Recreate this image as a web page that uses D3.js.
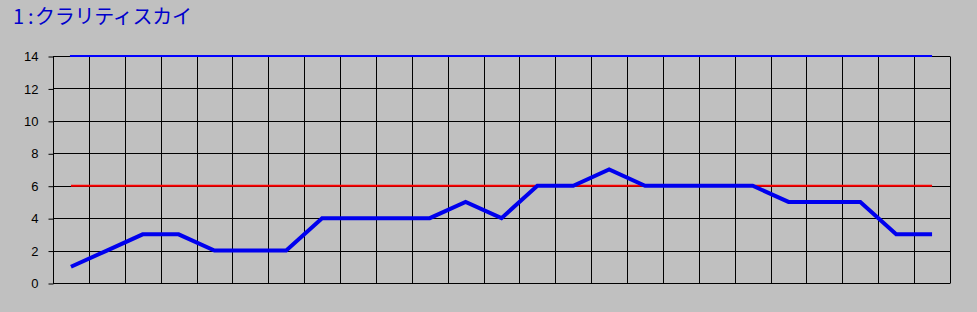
<!DOCTYPE html>
<html>
<head>
<meta charset="utf-8">
<script src="https://cdn.jsdelivr.net/npm/d3@7"></script>
<style>
  html, body { margin: 0; padding: 0; background: #c0c0c0; }
  svg { display: block; }
</style>
</head>
<body>
<div id="chart-area"></div>
<script>

// SVG Size
var width = 977,
		height = 312;

// Chart data
var titleNo = "1";
var titleSep = ":";
var titleName = "クラリティスカイ";
var categories = d3.range(1, 26);
var values = [1, 2, 3, 3, 2, 2, 2, 4, 4, 4, 4, 5, 4, 6, 6, 7, 6, 6, 6, 6, 5, 5, 5, 3, 3];
var upperLine = 14;
var centerLine = 6;
var yTicks = [0, 2, 4, 6, 8, 10, 12, 14];

var plot = { left: 53, right: 950, top: 56, bottom: 283 };

var svg = d3.select("#chart-area").append("svg")
	.attr("width", width)
	.attr("height", height);

svg.append("rect")
	.attr("width", width)
	.attr("height", height)
	.attr("fill", "#c0c0c0");

// Title (number, separator and name placed like the original)
var title = svg.append("text")
	.attr("y", 24)
	.attr("fill", "#0000cc")
	.style("font-family", "'Noto Sans CJK JP', sans-serif")
	.style("font-size", "20px");

title.append("tspan").attr("x", 13).text(titleNo);
title.append("tspan").attr("x", 28).text(titleSep);
title.append("tspan")
	.attr("x", 35)
	.attr("textLength", 157)
	.attr("lengthAdjust", "spacing")
	.text(titleName);

var x = d3.scaleBand()
	.domain(categories)
	.range([plot.left, plot.right])
	.padding(0);

var y = d3.scaleLinear()
	.domain([0, 14])
	.range([plot.bottom, plot.top]);

function crisp(v) { return Math.round(v) + 0.5; }

// Horizontal grid lines
svg.append("g").selectAll("line")
	.data(yTicks)
	.enter()
	.append("line")
	.attr("x1", plot.left)
	.attr("x2", plot.right)
	.attr("y1", function(d) { return crisp(y(d)); })
	.attr("y2", function(d) { return crisp(y(d)); })
	.attr("stroke", "#000")
	.attr("stroke-width", 1);

// Vertical grid lines at band edges
var edges = categories.map(function(d) { return x(d); }).concat([plot.right]);
svg.append("g").selectAll("line")
	.data(edges)
	.enter()
	.append("line")
	.attr("x1", function(d) { return crisp(d); })
	.attr("x2", function(d) { return crisp(d); })
	.attr("y1", crisp(y(14)))
	.attr("y2", crisp(y(0)))
	.attr("stroke", "#000")
	.attr("stroke-width", 1);

// Left axis
var yAxis = d3.axisLeft(y)
	.tickValues(yTicks)
	.tickSize(5)
	.tickPadding(10);

var axisG = svg.append("g")
	.attr("transform", "translate(" + crisp(plot.left) + ",0.5)")
	.call(yAxis);

axisG.select(".domain").remove();
axisG.selectAll(".tick line")
	.attr("stroke", "#000");
axisG.selectAll(".tick text")
	.attr("fill", "#000")
	.style("font-family", "'Liberation Sans', Arial, sans-serif")
	.style("font-size", "13px");

var cx = function(d) { return x(d) + x.bandwidth() / 2; };

// Upper limit line
svg.append("line")
	.attr("x1", cx(categories[0]) - 1)
	.attr("x2", cx(categories[categories.length - 1]))
	.attr("y1", y(upperLine))
	.attr("y2", y(upperLine))
	.attr("stroke", "#0000ff")
	.attr("stroke-width", 2);

// Center line
svg.append("line")
	.attr("x1", cx(categories[0]))
	.attr("x2", cx(categories[categories.length - 1]))
	.attr("y1", y(centerLine))
	.attr("y2", y(centerLine))
	.attr("stroke", "#ff0000")
	.attr("stroke-width", 2);

// Data series
var line = d3.line()
	.x(function(d, i) { return cx(categories[i]); })
	.y(function(d) { return y(d); });

svg.append("path")
	.datum(values)
	.attr("d", line)
	.attr("fill", "none")
	.attr("stroke", "#0000ee")
	.attr("stroke-width", 4)
	.attr("stroke-linejoin", "miter");

</script>
</body>
</html>
